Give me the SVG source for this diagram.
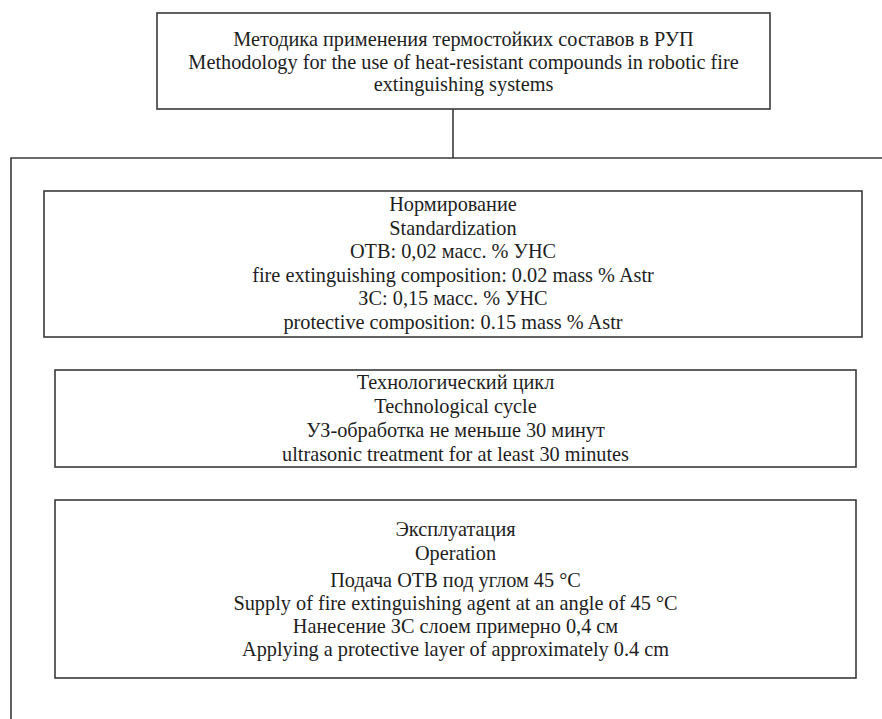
<svg xmlns="http://www.w3.org/2000/svg" width="882" height="719" viewBox="0 0 882 719">
<style>
.box{fill:#fff;stroke:#3a3a3a;stroke-width:1.6}
.ln{fill:none;stroke:#3a3a3a;stroke-width:1.6}
text{font-family:"Liberation Serif","Times New Roman",serif;font-size:20.3px;fill:#1e1e1e;text-anchor:middle}
</style>
<rect width="882" height="719" fill="#fff"/>
<g id="connectors">
<path class="ln" d="M453,109 V158"/>
<path class="ln" d="M11,719 V158 H882"/>
</g>
<g id="root">
<rect class="box" x="157" y="13" width="613" height="96"/>
<text x="463.5" y="46">Методика применения термостойких составов в РУП</text>
<text x="463.5" y="68.5">Methodology for the use of heat-resistant compounds in robotic fire</text>
<text x="463.5" y="91">extinguishing systems</text>
</g>
<g id="standardization">
<rect class="box" x="44" y="191" width="818" height="146"/>
<text x="453" y="211">Нормирование</text>
<text x="453" y="234.5">Standardization</text>
<text x="453" y="258">ОТВ: 0,02 масс. % УНС</text>
<text x="453" y="281.5">fire extinguishing composition: 0.02 mass % Astr</text>
<text x="453" y="305">ЗС: 0,15 масс. % УНС</text>
<text x="453" y="328.5">protective composition: 0.15 mass % Astr</text>
</g>
<g id="cycle">
<rect class="box" x="55" y="370" width="801" height="97"/>
<text x="455.5" y="389">Технологический цикл</text>
<text x="455.5" y="413">Technological cycle</text>
<text x="455.5" y="437">УЗ-обработка не меньше 30 минут</text>
<text x="455.5" y="461">ultrasonic treatment for at least 30 minutes</text>
</g>
<g id="operation">
<rect class="box" x="55" y="500" width="801" height="178"/>
<text x="455.5" y="536">Эксплуатация</text>
<text x="455.5" y="560">Operation</text>
<text x="455.5" y="587">Подача ОТВ под углом 45 °С</text>
<text x="455.5" y="610">Supply of fire extinguishing agent at an angle of 45 °C</text>
<text x="455.5" y="633">Нанесение ЗС слоем примерно 0,4 см</text>
<text x="455.5" y="656">Applying a protective layer of approximately 0.4 cm</text>
</g>
</svg>
